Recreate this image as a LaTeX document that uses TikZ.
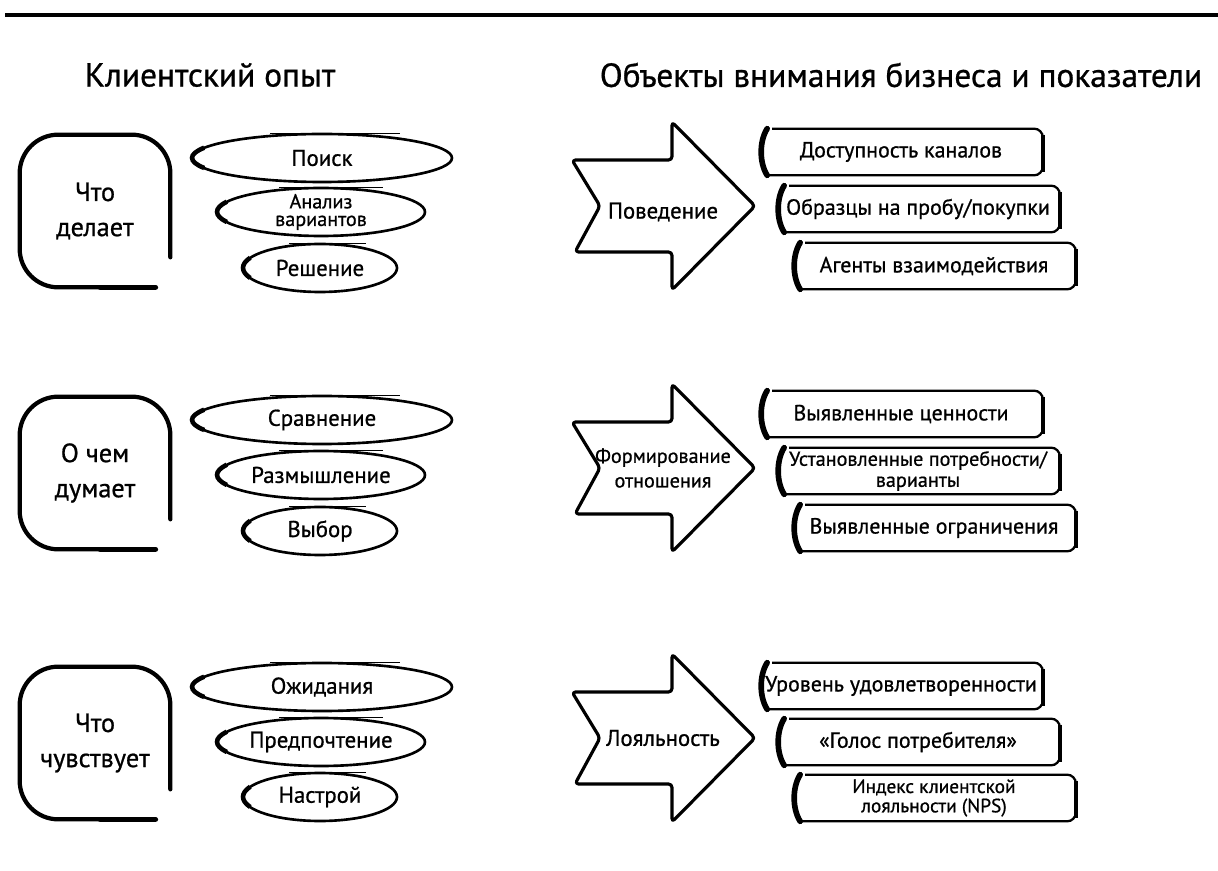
\documentclass[tikz,border=0pt]{standalone}
\usepackage{fontspec}
\setmainfont{PT Sans}[FakeBold=0.8]
\begin{document}
\begin{tikzpicture}[x=0.02cm, y=-0.02cm,
    head/.style={font=\fontsize{19}{21}\selectfont},
    sqtxt/.style={font=\fontsize{15}{20}\selectfont, align=center, minimum width=3cm, minimum height=3.04cm, inner sep=0pt},
    otxt/.style={font=\fontsize{13}{12}\selectfont, align=center, inner sep=0pt},
    artxt/.style={font=\fontsize{13}{14}\selectfont, align=center, inner sep=0pt},
    bxtxt/.style={font=\fontsize{12.5}{12}\selectfont, align=center, minimum width=5.66cm, minimum height=0.92cm, inner sep=0pt},
    sqline/.style={line width=2.4pt, rounded corners=22pt, line cap=round},
    oval/.style={line width=1.5pt},
    bigarrow/.style={line width=1.8pt, rounded corners=2pt, line join=round},
    bar/.style={line width=1.3pt, rounded corners=5pt},
    bracket/.style={line width=3.2pt, line cap=round}]
    \useasboundingbox (0,0) rectangle (1218,871);

    % Rule and headings
    \draw[line width=1.8pt] (5,15) -- (1218,15);
    \node[head] (hexp) at (210,75) {Клиентский опыт};
    \node[head] (hbiz) at (901,75) {Объекты внимания бизнеса и показатели};

    % Row 1: what the customer does
    \begin{scope}[shift={(0,210)}]
        \node[sqtxt] (sq1) at (95,1) {Что\\делает};
        \node[otxt] (e11) at (322,-52) {Поиск};
        \draw[oval] (e11.center) ellipse [x radius=130, y radius=24];
        \node[otxt, font=\fontsize{11.5}{10}\selectfont] (e12) at (321,2) {Анализ\\вариантов};
        \draw[oval] (e12.center) ellipse [x radius=104, y radius=24];
        \node[otxt] (e13) at (320,58) {Решение};
        \draw[oval] (e13.center) ellipse [x radius=77, y radius=24];
        \draw[bigarrow] (572,-50) -- (672,-50) -- (672,-88) -- (755,-4) -- (672,80)
            -- (672,42) -- (575,42) -- (600,-4) -- cycle;
        \node[artxt] (ar1) at (663,2) {Поведение};
        \node[bxtxt] (b11) at (901,-58) {Доступность каналов};
        \node[bxtxt] (b12) at (918,-1) {Образцы на пробу/покупки};
        \node[bxtxt] (b13) at (934,56) {Агенты взаимодействия};
    \end{scope}

    % Row 2: what the customer thinks about
    \begin{scope}[shift={(0,472)}]
        \node[sqtxt] (sq2) at (95,1) {О чем\\думает};
        \node[otxt] (e21) at (322,-52) {Сравнение};
        \draw[oval] (e21.center) ellipse [x radius=130, y radius=24];
        \node[otxt] (e22) at (321,3) {Размышление};
        \draw[oval] (e22.center) ellipse [x radius=104, y radius=24];
        \node[otxt] (e23) at (320,59) {Выбор};
        \draw[oval] (e23.center) ellipse [x radius=77, y radius=24];
        \draw[bigarrow] (572,-50) -- (672,-50) -- (672,-88) -- (755,-4) -- (672,80)
            -- (672,42) -- (575,42) -- (600,-4) -- cycle;
        \node[artxt, font=\fontsize{11.5}{14}\selectfont] (ar2) at (663,-4) {Формирование\\отношения};
        \node[bxtxt] (b21) at (901,-58) {Выявленные ценности};
        \node[bxtxt, font=\fontsize{11.5}{12}\selectfont] (b22) at (918,-1) {Установленные потребности/\\варианты};
        \node[bxtxt] (b23) at (934,56) {Выявленные ограничения};
    \end{scope}

    % Row 3: what the customer feels
    \begin{scope}[shift={(0,742)}]
        \node[sqtxt] (sq3) at (95,1) {Что\\чувствует};
        \node[otxt] (e31) at (322,-55) {Ожидания};
        \draw[oval] (e31.center) ellipse [x radius=130, y radius=24];
        \node[otxt] (e32) at (321,0) {Предпочтение};
        \draw[oval] (e32.center) ellipse [x radius=104, y radius=24];
        \node[otxt] (e33) at (320,55) {Настрой};
        \draw[oval] (e33.center) ellipse [x radius=77, y radius=24];
        \draw[bigarrow] (572,-50) -- (672,-50) -- (672,-88) -- (755,-4) -- (672,80)
            -- (672,42) -- (575,42) -- (600,-4) -- cycle;
        \node[artxt] (ar3) at (663,-4) {Лояльность};
        \node[bxtxt] (b31) at (901,-56) {Уровень удовлетворенности};
        \node[bxtxt] (b32) at (918,0) {«Голос потребителя»};
        \node[bxtxt, font=\fontsize{11}{11}\selectfont] (b33) at (934,56) {Индекс клиентской\\лояльности (NPS)};
    \end{scope}

    % Hand-drawn frames
    \foreach \s in {sq1,sq2,sq3}{
        \draw[sqline] ([xshift=-0.3cm]\s.south east) -- (\s.south west) -- (\s.north west)
            -- (\s.north east) -- ([yshift=0.6cm]\s.south east);
        \draw[bracket] ([xshift=-0.3cm]\s.south east) -- ([xshift=-1.4cm]\s.south east);
    }
    \foreach \e/\r in {e11/130,e12/104,e13/77,e21/130,e22/104,e23/77,e31/130,e32/104,e33/77}{
        \draw[line width=2.6pt] ([shift={({-0.906*\r},10)}]\e.center)
            arc [start angle=155, end angle=205, x radius=\r, y radius=24];
        \draw[line width=1pt] ([shift={({-0.4*\r},-24.5)}]\e.center) -- ([shift={({0.6*\r},-24.5)}]\e.center);
    }
    \foreach \b in {b11,b12,b13,b21,b22,b23,b31,b32,b33}{
        \draw[bar] ([xshift=0.26cm]\b.north west) -- (\b.north east) -- (\b.south east)
            -- ([xshift=0.12cm]\b.south west);
        \draw[bracket] ([xshift=0.16cm]\b.north west) .. controls ([yshift=-0.25cm]\b.north west)
            and ([yshift=0.25cm]\b.south west) .. ([xshift=0.16cm]\b.south west);
        \draw[line width=2.6pt] ([yshift=-0.12cm]\b.north east) -- ([yshift=0.06cm]\b.south east);
    }
\end{tikzpicture}
\end{document}
